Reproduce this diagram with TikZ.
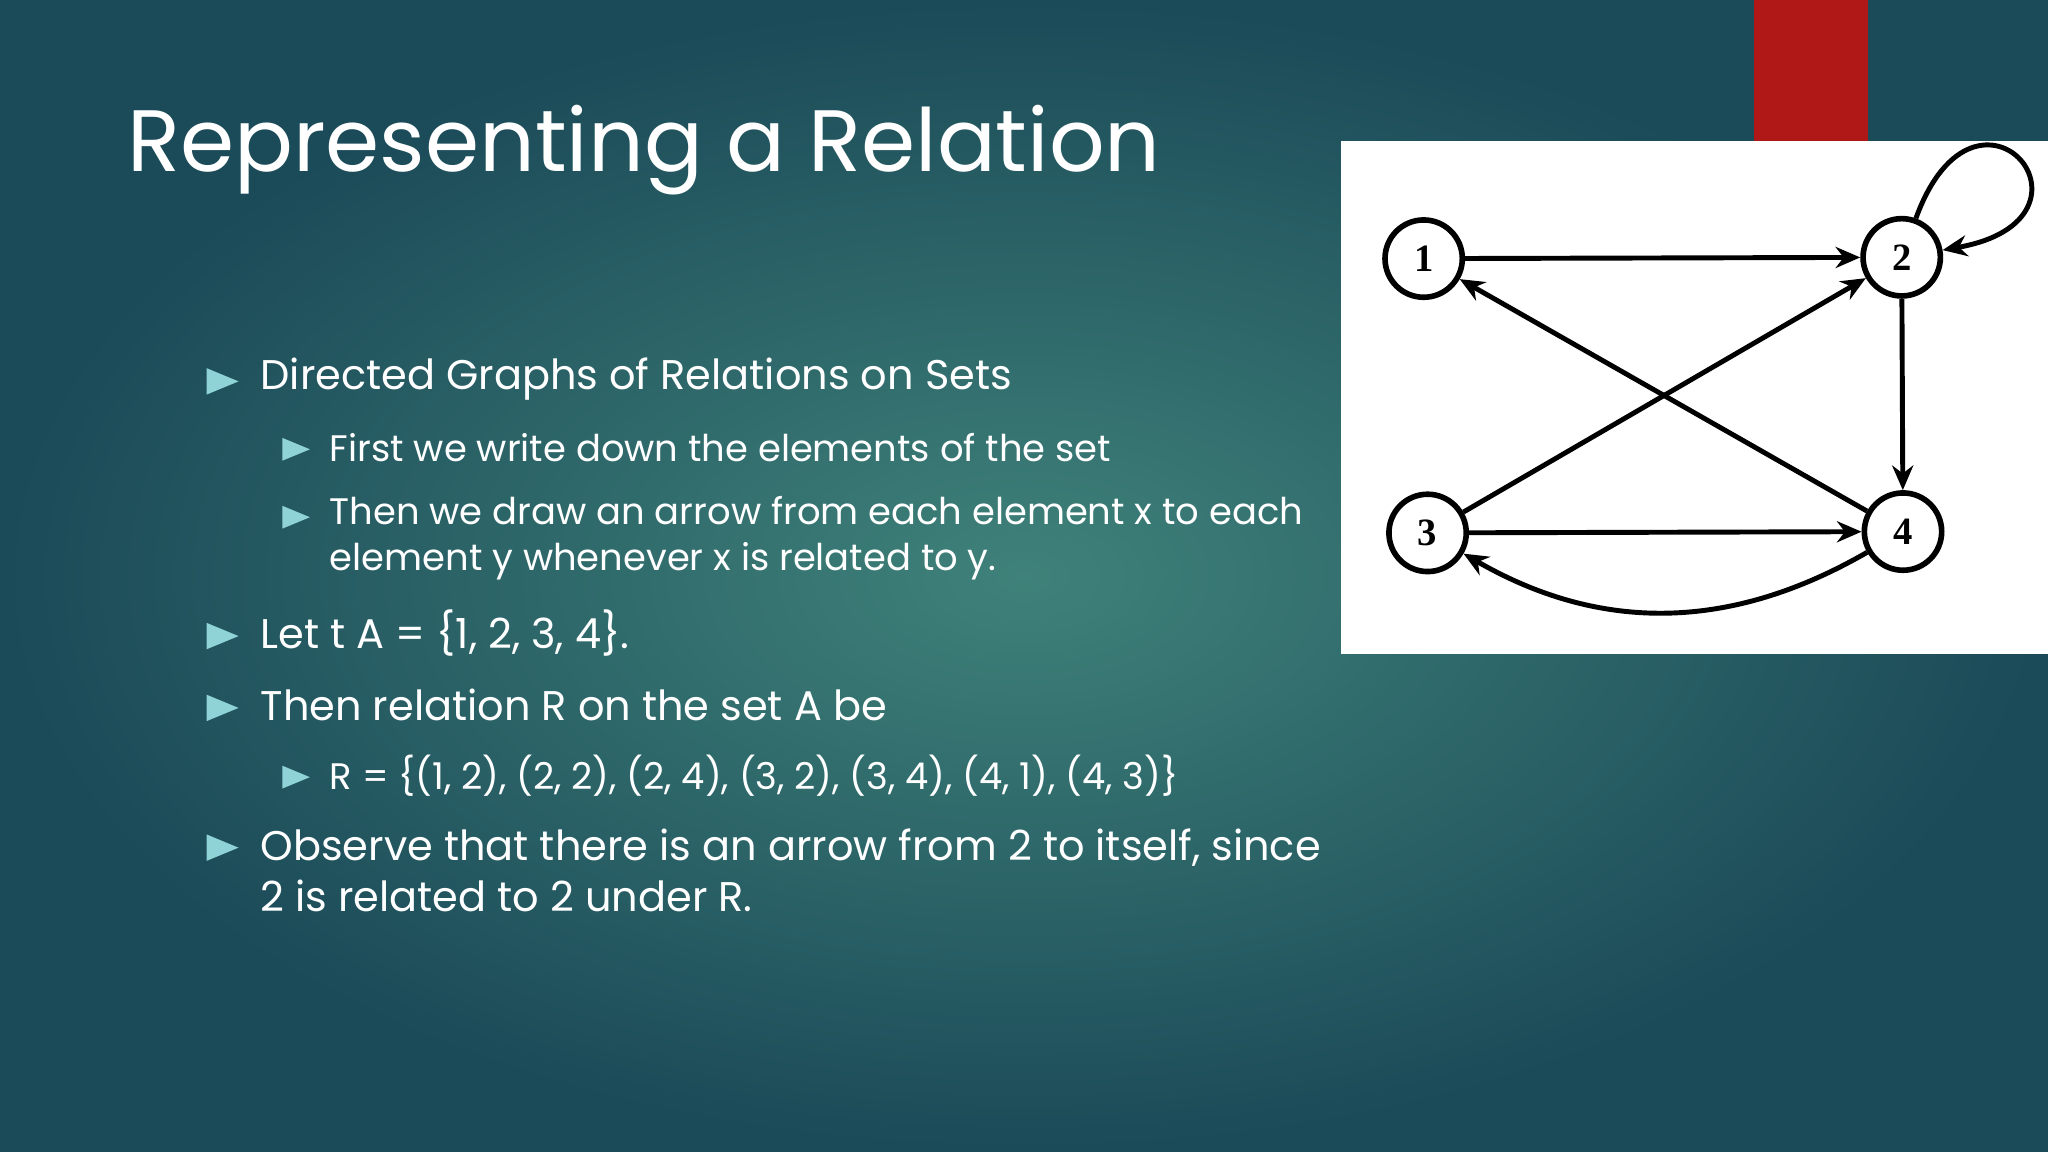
\documentclass[tikz,border=0pt]{standalone}
\usepackage{fontspec}
\setmainfont{Poppins}
\newfontfamily\numfont{Liberation Serif}
\usetikzlibrary{arrows.meta,shapes.geometric}
\definecolor{bgc}{HTML}{3F827A}
\definecolor{bgd}{HTML}{1B4A58}
\definecolor{bul}{HTML}{8FD3D6}
\definecolor{redb}{HTML}{B01818}
\tikzset{
 vert/.style={circle,draw=black,line width=1.6pt,minimum size=22pt,inner sep=0pt,fill=white,font=\numfont\bfseries\fontsize{11}{11}\selectfont},
 edge/.style={line width=1.4pt,-{Stealth[length=7pt,width=6pt]}},
 bt/.style={anchor=west,text=white,font=\fontsize{11.8}{14.5}\selectfont},
 st/.style={anchor=west,text=white,font=\fontsize{10.5}{13}\selectfont},
 tri/.style={isosceles triangle,fill=bul,inner sep=0pt,minimum width=7.5pt,minimum height=7pt},
 trs/.style={isosceles triangle,fill=bul,inner sep=0pt,minimum width=6.5pt,minimum height=6pt}
}
\begin{document}
\begin{tikzpicture}[x=0.01306cm,y=-0.01306cm]
\useasboundingbox (0,0) rectangle (1568,882);
\shade[inner color=bgc,outer color=bgd] (0,0) rectangle (1568,882);
\fill[redb] (1343,0) rectangle (1430,108);
\fill[white] (1027,108) rectangle (1568,501);
\node[anchor=base west,text=white,font=\fontsize{24.8}{27}\selectfont,inner sep=0] (title) at (97,131) {Representing a Relation};
\node[tri] (b1) at (165,292) {}; \node[bt] (t1) at (190,290) {Directed Graphs of Relations on Sets};
\node[trs] (b2) at (222,344) {}; \node[st] (t2) at (243,343) {First we write down the elements of the set};
\node[trs] (b3) at (222,396) {}; \node[st,align=left] (t3) at (243,412) {Then we draw an arrow from each element x to each\\element y whenever x is related to y.};
\node[tri] (b4) at (165,487) {}; \node[bt] (t4) at (190,485) {Let t A = \{1, 2, 3, 4\}.};
\node[tri] (b5) at (165,542) {}; \node[bt] (t5) at (190,540) {Then relation R on the set A be};
\node[trs] (b6) at (222,595) {}; \node[st] (t6) at (243,594) {R = \{(1, 2), (2, 2), (2, 4), (3, 2), (3, 4), (4, 1), (4, 3)\}};
\node[tri] (b7) at (165,649) {}; \node[bt,align=left] (t7) at (190,666) {Observe that there is an arrow from 2 to itself, since\\2 is related to 2 under R.};
\node[vert] (n1) at (1090,198) {1};
\node[vert] (n2) at (1456,197) {2};
\node[vert] (n3) at (1093,408) {3};
\node[vert] (n4) at (1457,407) {4};
\draw[edge] (n1) -- (n2);
\draw[edge] (n2) -- (n4);
\draw[edge] (n3) -- (n2);
\draw[edge] (n4) -- (n1);
\draw[edge] (n3) -- (n4);
\draw[edge] (n4) to[out=-150,in=-30] (n3);
\draw[edge] (n2) to[out=70,in=10,looseness=11] (n2);
\end{tikzpicture}
\end{document}
